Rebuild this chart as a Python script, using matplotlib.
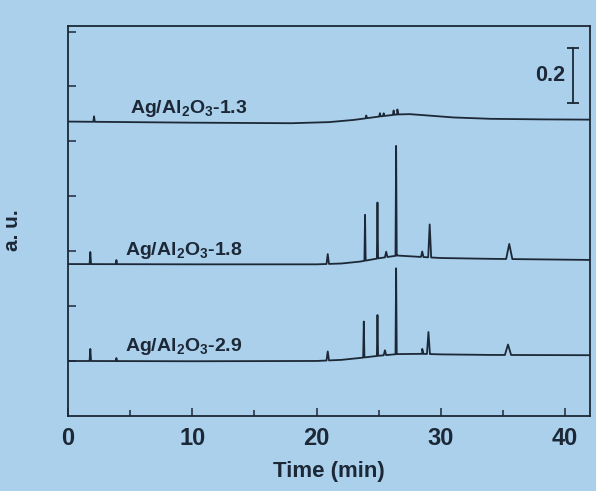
import numpy as np
import matplotlib.pyplot as plt

plt.rcParams['font.family'] = ['Liberation Sans', 'DejaVu Sans']
plt.rcParams['font.weight'] = 'bold'
plt.rcParams['mathtext.fontset'] = 'custom'
plt.rcParams['mathtext.rm'] = 'Liberation Sans:bold'
plt.rcParams['mathtext.default'] = 'rm'

ink = '#1c2836'
paper = '#aad0ec'

# baseline knots (time, signal) and peaks (time, height, half width) per sample
base13_t = [0, 10, 18, 21, 23, 25, 26.5, 27.5, 29, 31, 34, 38, 42]
base13_y = [1.072, 1.068, 1.066, 1.070, 1.078, 1.090, 1.098, 1.099, 1.094, 1.087, 1.082, 1.080, 1.079]
peak13_t = [2.1, 24.0, 25.1, 25.4, 26.2, 26.5]
peak13_h = [0.020, 0.010, 0.012, 0.010, 0.016, 0.018]
peak13_w = [0.06, 0.06, 0.06, 0.06, 0.06, 0.06]

base18_t = [0, 10, 20, 22, 23.5, 25, 26.5, 28, 30, 34, 42]
base18_y = [0.553, 0.552, 0.552, 0.555, 0.562, 0.574, 0.584, 0.580, 0.575, 0.572, 0.568]
peak18_t = [1.8, 3.9, 20.9, 23.9, 24.9, 25.6, 26.4, 28.5, 29.1, 35.5]
peak18_h = [0.044, 0.015, 0.036, 0.167, 0.204, 0.020, 0.400, 0.020, 0.120, 0.055]
peak18_w = [0.06, 0.05, 0.10, 0.05, 0.05, 0.10, 0.05, 0.10, 0.12, 0.25]

base29_t = [0, 10, 20, 22, 23.5, 25, 26.5, 28.5, 30, 34, 42]
base29_y = [0.200, 0.199, 0.200, 0.204, 0.211, 0.219, 0.225, 0.226, 0.224, 0.222, 0.221]
peak29_t = [1.8, 3.9, 20.9, 23.8, 24.9, 25.5, 26.4, 28.5, 29.0, 35.4]
peak29_h = [0.044, 0.011, 0.033, 0.131, 0.149, 0.018, 0.313, 0.018, 0.080, 0.038]
peak29_w = [0.06, 0.05, 0.10, 0.05, 0.05, 0.10, 0.05, 0.10, 0.12, 0.25]

labels = ['Ag/Al$_2$O$_3$-1.3', 'Ag/Al$_2$O$_3$-1.8', 'Ag/Al$_2$O$_3$-2.9']
label_t = [5.0, 4.6, 4.6]


def trace(bt, by, pt, ph, pw):
    t = list(bt)
    y = list(by)
    for c, h, w in zip(pt, ph, pw):
        for tt, extra in ((c - w, 0.0), (c, h), (c + w, 0.0)):
            t.append(tt)
            y.append(np.interp(tt, bt, by) + extra)
    order = np.argsort(t, kind='stable')
    return np.array(t)[order], np.array(y)[order]


fig = plt.figure(figsize=(5.96, 4.91), dpi=100, facecolor=paper)
ax = fig.add_axes([0.114, 0.153, 0.876, 0.794], facecolor=paper)

traces = [
    trace(base13_t, base13_y, peak13_t, peak13_h, peak13_w),
    trace(base18_t, base18_y, peak18_t, peak18_h, peak18_w),
    trace(base29_t, base29_y, peak29_t, peak29_h, peak29_w),
]
for (t, y), lab, lt in zip(traces, labels, label_t):
    ax.plot(t, y, color=ink, lw=1.3)
    ax.text(lt, np.interp(lt, t, y) + 0.035, lab, fontsize=14,
            color=ink, ha='left', va='baseline')

# 0.2 a.u. scale bar
ax.plot([40.6, 40.6], [1.14, 1.34], color=ink, lw=1.3)
ax.plot([40.6, 40.6], [1.14, 1.34], ls='none', marker='_', ms=9,
        mew=1.3, color=ink)
ax.text(40.0, 1.24, '0.2', fontsize=15.5, color=ink, ha='right', va='center')

ax.set_xlim(0, 42)
ax.set_ylim(0, 1.42)
ax.set_xticks([0, 10, 20, 30, 40])
ax.set_xticks([5, 15, 25, 35], minor=True)
ax.set_yticks(np.arange(0.2, 1.41, 0.2))
ax.set_yticklabels([])
ax.tick_params(direction='in', length=6, width=1.1, colors=ink,
               labelsize=17, pad=8)
ax.tick_params(which='minor', direction='in', length=4, width=1.1,
               colors=ink)
for s in ax.spines.values():
    s.set_color(ink)
    s.set_linewidth(1.3)

ax.set_xlabel('Time (min)', fontsize=16, fontweight='bold', color=ink,
              labelpad=8)
ax.set_ylabel('a. u.', fontsize=15, fontweight='bold', color=ink)
ax.yaxis.set_label_coords(-0.088, 0.477)

fig.savefig('out.png', dpi=100, facecolor=paper)
